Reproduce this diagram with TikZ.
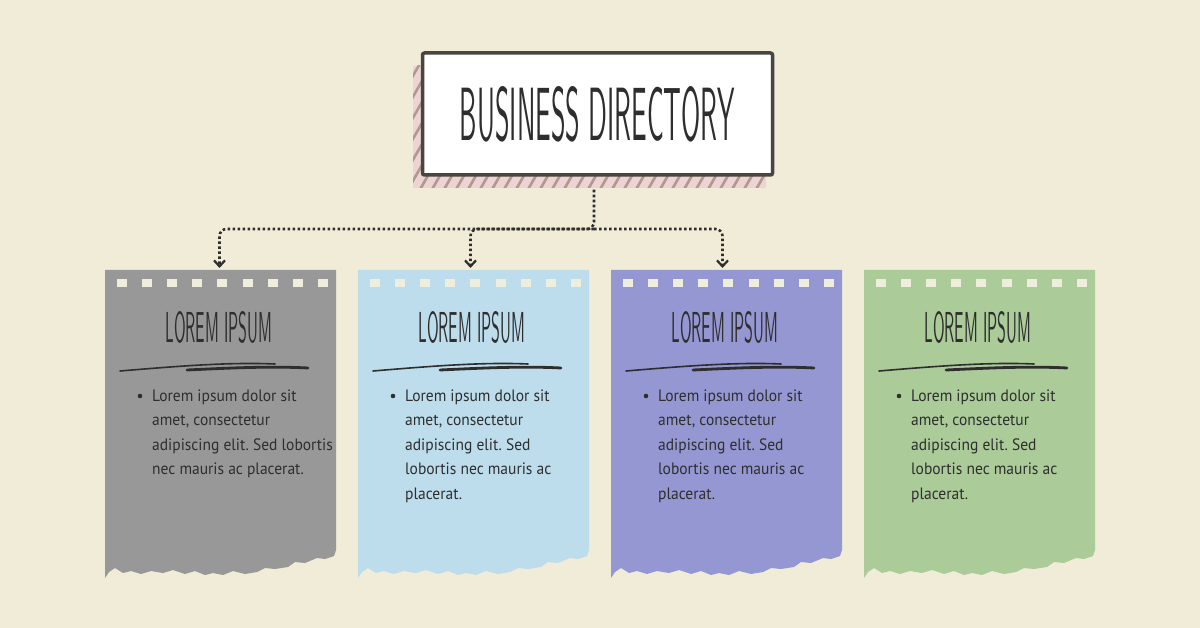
\documentclass[tikz,border=0pt]{standalone}
\usepackage{fontspec}
\usepackage{graphicx}
\usetikzlibrary{arrows.meta}
\newfontfamily\bodyfont[FakeStretch=0.94]{PT Sans}
\newcommand\headfont{\sffamily}
\definecolor{bgcol}{HTML}{F0ECD8}
\definecolor{holecol}{HTML}{EFEDDB}
\definecolor{inkcol}{HTML}{2E2E2E}
\definecolor{framecol}{HTML}{4A4541}
\definecolor{stripepink}{HTML}{EDD3D3}
\definecolor{stripebrown}{HTML}{B09A90}
\definecolor{cardgray}{HTML}{989898}
\definecolor{cardblue}{HTML}{BDDDEC}
\definecolor{cardpurple}{HTML}{9597D2}
\definecolor{cardgreen}{HTML}{ABCB99}
\tikzset{
  titlebox/.style={draw=framecol, line width=3.5pt, fill=white, rounded corners=2pt,
    minimum width=350pt, minimum height=122pt, inner sep=0pt},
  cardanchor/.style={minimum width=231pt, minimum height=280pt, inner sep=0pt, anchor=north},
  conn/.style={draw=inkcol, line width=2.6pt, dash pattern=on 2.6pt off 2.4pt, rounded corners=7pt,
    -{Straight Barb[length=6pt,width=11pt,line width=2.2pt]}, shorten >=2pt},
  headtext/.style={text=inkcol, inner sep=0pt},
  bodytext/.style={text=inkcol, inner sep=0pt, anchor=north west, align=left,
    font=\bodyfont\fontsize{16.5}{24.5}\selectfont\frenchspacing},
  scribble/.style={draw=inkcol, line cap=round},
}
\newcommand\papercard[4]{%
  \begin{scope}[shift={(#2,0)}]
    \fill[#3] (0,270) -- (231,270) -- (231,550) -- (229,556) -- (220,559) -- (212,558)
      -- (200,563) -- (190,562) -- (183,567) -- (170,569) -- (160,568) -- (152,572)
      -- (140,574) -- (128,571) -- (118,575) -- (108,573) -- (100,575) -- (90,571)
      -- (80,574) -- (68,570) -- (58,573) -- (46,571) -- (36,574) -- (26,571)
      -- (18,573) -- (10,568) -- (4,572) -- (0,578) -- cycle;
    \foreach \i in {0,...,8} \fill[holecol] (12+\i*25.1,279) rectangle ++(10,8);
    \node[cardanchor] (#1) at (115.5,270) {};
    \node[headtext] (#1h) at (114,327) {\resizebox{107pt}{31pt}{\headfont LOREM IPSUM}};
    \draw[scribble, line width=1.6pt] (15,371) .. controls (75,366) and (125,362) .. (170,364);
    \draw[scribble, line width=2.8pt] (82,370) .. controls (125,368) and (165,366) .. (203,368);
    \fill[inkcol] (35,396) circle (2.3);
    \node[bodytext] (#1t) at (47,389.5) {#4};
  \end{scope}}
\begin{document}
\begin{tikzpicture}[x=1pt,y=-1pt]
\useasboundingbox (0,0) rectangle (1200,628);
\fill[bgcol] (0,0) rectangle (1200,628);
% hatched shadow of the title box
\begin{scope}
  \clip (413,66) rectangle (766,188);
  \fill[stripepink] (413,66) rectangle (766,188);
  \foreach \k in {0,...,40}
    \draw[stripebrown, line width=2.6pt] (330+\k*12,200) -- (410+\k*12,60);
\end{scope}
\node[titlebox] (title) at (597.5,114) {\color{inkcol}\resizebox{275pt}{54pt}{\headfont BUSINESS DIRECTORY}};
% cards
\papercard{c1}{105}{cardgray}{Lorem ipsum dolor sit\\amet, consectetur\\adipiscing elit. Sed lobortis\\nec mauris ac placerat.}
\papercard{c2}{358}{cardblue}{Lorem ipsum dolor sit\\amet, consectetur\\adipiscing elit. Sed\\lobortis nec mauris ac\\placerat.}
\papercard{c3}{611}{cardpurple}{Lorem ipsum dolor sit\\amet, consectetur\\adipiscing elit. Sed\\lobortis nec mauris ac\\placerat.}
\papercard{c4}{864}{cardgreen}{Lorem ipsum dolor sit\\amet, consectetur\\adipiscing elit. Sed\\lobortis nec mauris ac\\placerat.}
% connectors
\coordinate (hub) at (594,229);
\draw[conn] ([yshift=-13pt]title.south -| hub) -- (hub) -| ([xshift=-1pt]c1.north);
\draw[conn] (hub) -| ([xshift=-3pt]c2.north);
\draw[conn] (hub) -| ([xshift=-4pt]c3.north);
\end{tikzpicture}
\end{document}
